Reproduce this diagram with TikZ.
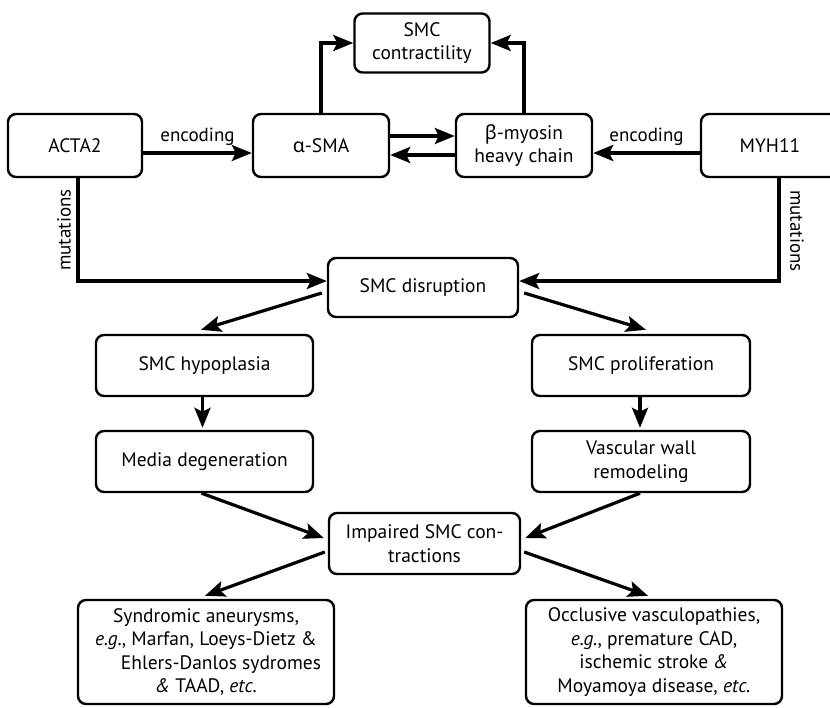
\documentclass[tikz,border=0pt]{standalone}
\usepackage{fontspec}
\setmainfont{PT Sans}
\newfontfamily\grk{Noto Sans}
\usetikzlibrary{arrows.meta}
\begin{document}
\begin{tikzpicture}[x=1pt,y=-1pt,
  box/.style={draw, line width=2.4pt, rounded corners=8pt, align=center, inner sep=0pt,
    font=\fontsize{19.5}{23.5}\selectfont},
  arr/.style={line width=3.2pt, -{Stealth[length=20pt,width=16pt,inset=4pt]}},
  lbl/.style={font=\fontsize{19}{22}\selectfont, inner sep=0pt}]
\useasboundingbox (0,0) rectangle (830,707);
% nodes
\node[box, minimum width=135pt, minimum height=59pt] (contr) at (422,43) {SMC\\contractility};
\node[box, minimum width=134pt, minimum height=63pt] (acta) at (75,145.5) {ACTA2};
\node[box, minimum width=136pt, minimum height=63pt] (asma) at (321,145.5) {{\grk α}-SMA};
\node[box, minimum width=136pt, minimum height=63pt] (beta) at (524,145.5) {{\grk β}-myosin\\heavy chain};
\node[box, minimum width=138pt, minimum height=63pt] (myh) at (770,145.5) {MYH11};
\node[box, minimum width=190pt, minimum height=59pt] (dis) at (423,287.5) {SMC disruption};
\node[box, minimum width=217pt, minimum height=61pt] (hyp) at (204.5,365.5) {SMC hypoplasia};
\node[box, minimum width=218pt, minimum height=61pt] (prol) at (641,365.5) {SMC proliferation};
\node[box, minimum width=217pt, minimum height=61pt] (med) at (204.5,461.5) {Media degeneration};
\node[box, minimum width=218pt, minimum height=61pt] (vasc) at (641,461.5) {Vascular wall\\remodeling};
\node[box, minimum width=191pt, minimum height=61pt] (imp) at (424.5,543.5) {Impaired SMC con-\\tractions};
\node[box, minimum width=256pt, minimum height=104pt] (syn) at (206,652)
  {Syndromic aneurysms,\\ \textit{e.g.}, Marfan, Loeys-Dietz \&\\ \hspace*{30pt}Ehlers-Danlos sydromes\\ \textit{\&} TAAD, \textit{etc.}};
\node[box, minimum width=256pt, minimum height=104pt] (occ) at (654,652)
  {Occlusive vasculopathies,\\ \textit{e.g.}, premature CAD,\\ ischemic stroke \textit{\&}\\ Moyamoya disease, \textit{etc.}};
\node[lbl, rotate=90] (mutL) at (64,230) {mutations};
\node[lbl, rotate=-90] (mutR) at (797,231) {mutations};
% connectors
\draw[arr] ([yshift=-7.5pt]acta.east) -- ([yshift=-7.5pt]asma.west)
  node[lbl, midway, above=6pt] (encL) {encoding};
\draw[arr] ([yshift=-7.5pt]myh.west) -- ([yshift=-7.5pt]beta.east)
  node[lbl, midway, above=6pt] (encR) {encoding};
\draw[arr] ([yshift=9.5pt]asma.east) -- ([yshift=9.5pt]beta.west);
\draw[arr] ([yshift=-9.5pt]beta.west) -- ([yshift=-9.5pt]asma.east);
\draw[arr] (asma.north) |- (contr.west);
\draw[arr] (beta.north) |- (contr.east);
\coordinate (mL) at ([xshift=3pt]acta.south);
\coordinate (mR) at ([xshift=9pt]myh.south);
\draw[arr] (mL) |- ([yshift=6.5pt]dis.west);
\draw[arr] (mR) |- ([yshift=6.5pt]dis.east);
\draw[arr] ([shift={(-5pt,-5.5pt)}]dis.west) -- ([shift={(-3.5pt,4pt)}]hyp.north);
\draw[arr] ([shift={(5pt,-5.5pt)}]dis.east) -- ([shift={(5pt,4pt)}]prol.north);
\draw[arr] ([xshift=-2pt]hyp.south) -- ([xshift=-2pt,yshift=2pt]med.north);
\draw[arr] ([xshift=-1pt]prol.south) -- ([xshift=-1pt,yshift=2pt]vasc.north);
\draw[arr] ([xshift=-3pt]med.south) -- ([shift={(-4pt,5.5pt)}]imp.west);
\draw[arr] ([xshift=-1pt]vasc.south) -- ([shift={(4pt,5.5pt)}]imp.east);
\draw[arr] ([shift={(-3pt,-8.5pt)}]imp.west) -- ([shift={(-1pt,3pt)}]syn.north);
\draw[arr] ([shift={(3pt,-8.5pt)}]imp.east) -- ([shift={(-6pt,3pt)}]occ.north);
\end{tikzpicture}
\end{document}
